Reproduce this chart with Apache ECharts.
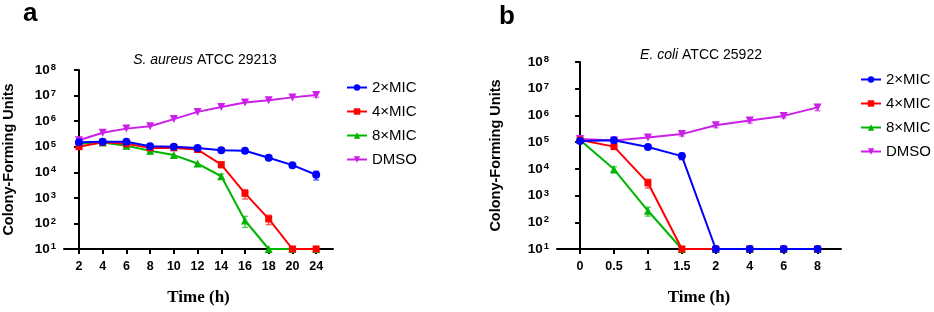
<!DOCTYPE html>
<html>
<head>
<meta charset="utf-8">
<script src="https://cdn.jsdelivr.net/npm/echarts@6/dist/echarts.min.js"></script>
<style>
  html, body { margin: 0; padding: 0; background: #fff; }
  #main { width: 934px; height: 312px; }
</style>
</head>
<body>
<div id="main"></div>
<script>
// panel a: S. aureus
var catsA = ['2', '4', '6', '8', '10', '12', '14', '16', '18', '20', '24'];
var mic2A = [1.5e5, 1.55e5, 1.55e5, 1.05e5, 1.0e5, 9e4, 7.2e4, 7e4, 3.7e4, 1.9e4, 8e3];
var mic4A = [1.0e5, 1.5e5, 1.3e5, 9e4, 9e4, 7.8e4, 2e4, 1.5e3, 150, 10, 10];
var mic8A = [1.3e5, 1.45e5, 1.1e5, 6.9e4, 4.7e4, 2.2e4, 7e3, 130, 10, 10, 10];
var dmsoA = [1.8e5, 3.5e5, 5.1e5, 6.3e5, 1.2e6, 2.3e6, 3.6e6, 5.4e6, 6.6e6, 8.5e6, 1.05e7];
var errMic2A = [2e4, 0, 0, 0, 0, 0, 0, 0, 0, 0, 3e3];
var errMic4A = [0, 0, 0, 0, 0, 0, 5e3, 600, 60, 0, 0];
var errMic8A = [0, 0, 0, 0, 0, 0, 1.5e3, 60, 0, 0, 0];
var errDmsoA = [3e4, 0, 0, 0, 0, 0, 0, 0, 0, 0, 2e6];

// panel b: E. coli
var catsB = ['0', '0.5', '1', '1.5', '2', '4', '6', '8'];
var mic2B = [1.1e5, 1.17e5, 6.6e4, 3.0e4, 10, 10, 10, 10];
var mic4B = [1.2e5, 6.8e4, 3.0e3, 10, 10, 10, 10, 10];
var mic8B = [1.2e5, 9.6e3, 270, 10, 10, 10, 10, 10];
var dmsoB = [1.3e5, 1.15e5, 1.5e5, 2.0e5, 4.3e5, 6.4e5, 9.6e5, 2.0e6];
var errMic2B = [0, 0, 0, 8e3, 0, 0, 0, 0];
var errMic4B = [0, 0, 1.1e3, 0, 0, 0, 0, 0];
var errMic8B = [0, 2.5e3, 100, 0, 0, 0, 0, 0];
var errDmsoB = [2e4, 0, 0, 3e4, 8e4, 1.2e5, 1.5e5, 5e5];

var names = ['2×MIC', '4×MIC', '8×MIC', 'DMSO'];
var colors = ['#0000ff', '#ff0000', '#00b400', '#cc1fe8'];
var symbols = ['circle', 'rect', 'triangle', 'triangle'];
var sizes = [8, 7, 8, 8];
var rotates = [0, 0, 0, 180];
var zs = [5, 4, 3, 2];

var chart = echarts.init(document.getElementById('main'));

function pairs(vals) {
    return vals.map(function (v, i) { return [i, v]; });
}
function triples(vals, errs) {
    return vals.map(function (v, i) { return [i, v, errs[i]]; });
}

function errRender(color) {
    return function (params, api) {
        var e = api.value(2);
        if (!e) return;
        var x = api.value(0), v = api.value(1);
        var lo = api.coord([x, v - e]);
        var hi = api.coord([x, v + e]);
        var w = 3;
        var st = { stroke: color, lineWidth: 1.5, opacity: 0.6 };
        return {
            type: 'group',
            children: [
                { type: 'line', shape: { x1: lo[0], y1: lo[1], x2: hi[0], y2: hi[1] }, style: st },
                { type: 'line', shape: { x1: lo[0] - w, y1: lo[1], x2: lo[0] + w, y2: lo[1] }, style: st },
                { type: 'line', shape: { x1: hi[0] - w, y1: hi[1], x2: hi[0] + w, y2: hi[1] }, style: st }
            ]
        };
    };
}

function makeSeries(idx, valsList, errList) {
    var out = [];
    valsList.forEach(function (vals, k) {
        out.push({
            name: names[k],
            type: 'line',
            xAxisIndex: idx,
            yAxisIndex: idx,
            data: pairs(vals),
            symbol: symbols[k],
            symbolSize: sizes[k],
            symbolRotate: rotates[k],
            z: zs[k],
            lineStyle: { color: colors[k], width: 2 },
            itemStyle: { color: colors[k] },
            emphasis: { disabled: true },
            animation: false
        });
        out.push({
            type: 'custom',
            xAxisIndex: idx,
            yAxisIndex: idx,
            data: triples(vals, errList[k]),
            encode: { x: 0, y: 1 },
            renderItem: errRender(colors[k]),
            z: 1,
            silent: true,
            animation: false
        });
    });
    return out;
}

function xAxisCfg(gridIndex, cats, min, max) {
    return {
        type: 'value',
        gridIndex: gridIndex,
        min: min,
        max: max,
        name: 'Time (h)',
        nameLocation: 'middle',
        nameGap: 40,
        nameTextStyle: { fontFamily: 'Liberation Serif', fontWeight: 'bold', fontSize: 17, color: '#000' },
        axisLine: { lineStyle: { color: '#000', width: 2 } },
        axisTick: { show: true, length: 5, lineStyle: { color: '#000', width: 2 },
            customValues: cats.map(function (c, i) { return i; }) },
        axisLabel: {
            customValues: cats.map(function (c, i) { return i; }),
            formatter: function (v) { return cats[v]; },
            fontFamily: 'Liberation Sans', fontWeight: 'bold', fontSize: 12.5, color: '#000', margin: 11
        },
        splitLine: { show: false }
    };
}

function yAxisCfg(gridIndex, gap) {
    return {
        type: 'log',
        logBase: 10,
        gridIndex: gridIndex,
        min: 10,
        max: 1e8,
        splitNumber: 7,
        name: 'Colony-Forming Units',
        nameLocation: 'middle',
        nameRotate: 90,
        nameGap: gap,
        nameTextStyle: { fontFamily: 'Liberation Sans', fontWeight: 'bold', fontSize: 14.5, color: '#000' },
        axisLine: { show: true, lineStyle: { color: '#000', width: 2 } },
        axisTick: { show: true, length: 5, lineStyle: { color: '#000', width: 2 } },
        axisLabel: {
            margin: 8,
            formatter: function (v) {
                return '{b|10}{s|' + Math.round(Math.log10(v)) + '}';
            },
            rich: {
                b: { fontFamily: 'Liberation Sans', fontWeight: 'bold', fontSize: 13.5, color: '#000' },
                s: { fontFamily: 'Liberation Sans', fontWeight: 'bold', fontSize: 9.5, color: '#000',
                     verticalAlign: 'bottom', padding: [0, 0, 5, 1] }
            }
        },
        splitLine: { show: false }
    };
}

var option = {
    backgroundColor: '#fff',
    title: [
        { text: 'a', left: 18, top: -4, textStyle: { fontFamily: 'Liberation Sans', fontWeight: 'bold', fontSize: 26, color: '#000' } },
        { text: 'b', left: 494, top: -1, textStyle: { fontFamily: 'Liberation Sans', fontWeight: 'bold', fontSize: 26, color: '#000' } },
        { text: '{i|S. aureus} ATCC 29213', left: 200, top: 48, textAlign: 'center',
          textStyle: { fontFamily: 'Liberation Sans', fontWeight: 'normal', fontSize: 14, color: '#000',
                       rich: { i: { fontFamily: 'Liberation Sans', fontStyle: 'italic', fontSize: 14, color: '#000' } } } },
        { text: '{i|E. coli} ATCC 25922', left: 696, top: 43, textAlign: 'center',
          textStyle: { fontFamily: 'Liberation Sans', fontWeight: 'normal', fontSize: 14, color: '#000',
                       rich: { i: { fontFamily: 'Liberation Sans', fontStyle: 'italic', fontSize: 14, color: '#000' } } } }
    ],
    legend: [
        { data: names, orient: 'vertical', left: 341, top: 75, itemWidth: 20, itemHeight: 8, itemGap: 9,
          textStyle: { fontFamily: 'Liberation Sans', fontSize: 15, color: '#000' }, selectedMode: false },
        { data: names, orient: 'vertical', left: 855, top: 67, itemWidth: 20, itemHeight: 8, itemGap: 9,
          textStyle: { fontFamily: 'Liberation Sans', fontSize: 15, color: '#000' }, selectedMode: false }
    ],
    grid: [
        { left: 62, top: 70, width: 271, height: 179 },
        { left: 557, top: 62, width: 284, height: 187 }
    ],
    xAxis: [
        xAxisCfg(0, catsA, -0.63, 10.71),
        xAxisCfg(1, catsB, -0.68, 7.69)
    ],
    yAxis: [
        yAxisCfg(0, 48),
        yAxisCfg(1, 54)
    ],
    series: makeSeries(0, [mic2A, mic4A, mic8A, dmsoA], [errMic2A, errMic4A, errMic8A, errDmsoA])
        .concat(makeSeries(1, [mic2B, mic4B, mic8B, dmsoB], [errMic2B, errMic4B, errMic8B, errDmsoB]))
};

chart.setOption(option);
window.addEventListener('resize', function () { chart.resize(); });
</script>
</body>
</html>
